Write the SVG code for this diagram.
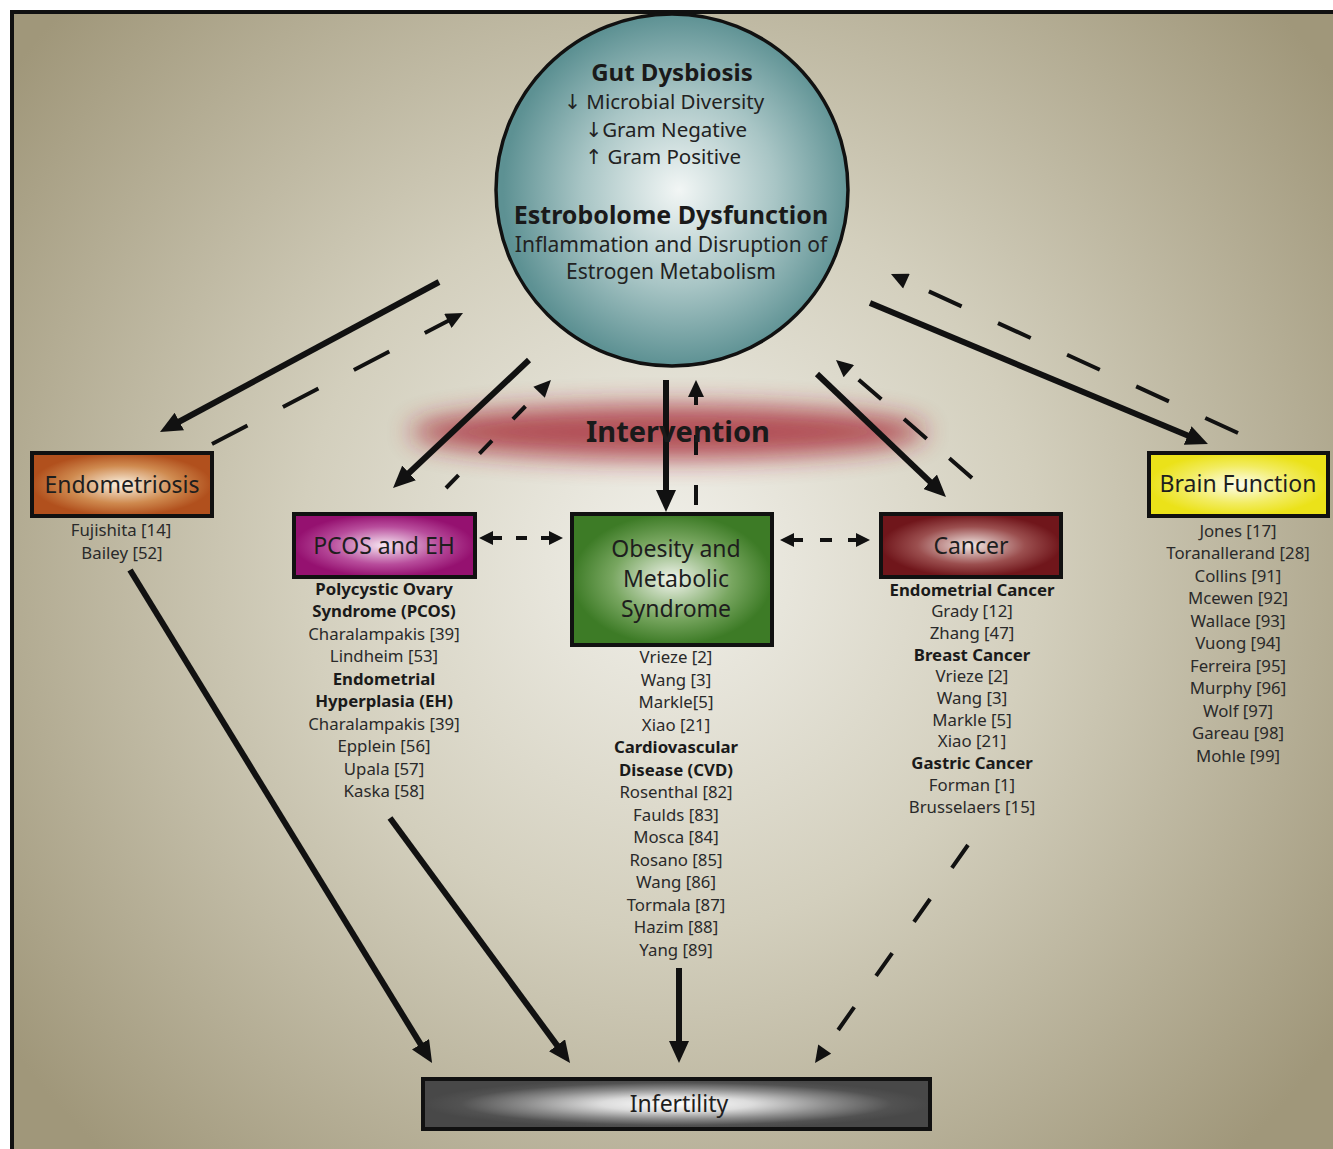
<svg xmlns="http://www.w3.org/2000/svg" width="1333" height="1149" viewBox="0 0 1333 1149">
<defs>
<radialGradient id="bg" gradientUnits="userSpaceOnUse" cx="670" cy="560" r="820">
<stop offset="0" stop-color="#f1f0ea"/><stop offset="0.45" stop-color="#d3cfbd"/><stop offset="1" stop-color="#a0977a"/>
</radialGradient>
<radialGradient id="gCircle" cx="0.52" cy="0.5" r="0.5">
<stop offset="0" stop-color="#f2f6f5"/><stop offset="0.55" stop-color="#a8c5c5"/><stop offset="1" stop-color="#5d9193"/>
</radialGradient>
<radialGradient id="gEndo" cx="0.5" cy="0.5" r="0.5"><stop offset="0" stop-color="#fbf3e4"/><stop offset="0.6" stop-color="#cf8a4f"/><stop offset="1" stop-color="#b1501d"/></radialGradient>
<radialGradient id="gPcos" cx="0.5" cy="0.5" r="0.5"><stop offset="0" stop-color="#f6e6f2"/><stop offset="0.6" stop-color="#b84d9c"/><stop offset="1" stop-color="#951170"/></radialGradient>
<radialGradient id="gObes" cx="0.5" cy="0.5" r="0.5"><stop offset="0" stop-color="#f2f5ee"/><stop offset="0.6" stop-color="#78a660"/><stop offset="1" stop-color="#3d7b26"/></radialGradient>
<radialGradient id="gCanc" cx="0.5" cy="0.5" r="0.5"><stop offset="0" stop-color="#f2e8e4"/><stop offset="0.6" stop-color="#9b4f4f"/><stop offset="1" stop-color="#70161b"/></radialGradient>
<radialGradient id="gBrain" cx="0.5" cy="0.5" r="0.5"><stop offset="0" stop-color="#fdfdf0"/><stop offset="0.6" stop-color="#f2ec60"/><stop offset="1" stop-color="#ebe219"/></radialGradient>
<radialGradient id="gInf" cx="0.5" cy="0.5" r="0.5"><stop offset="0" stop-color="#ffffff"/><stop offset="0.3" stop-color="#dcdcdc"/><stop offset="0.6" stop-color="#8c8c8c"/><stop offset="0.85" stop-color="#525252"/><stop offset="1" stop-color="#484848"/></radialGradient>
<filter id="blur" x="-30%" y="-100%" width="160%" height="300%"><feGaussianBlur stdDeviation="13"/></filter>
<marker id="hs" markerUnits="userSpaceOnUse" viewBox="-2 -10 22 20" refX="0" refY="0" markerWidth="22" markerHeight="20" orient="auto"><path d="M-2,-10 L20,0 L-2,10 z" fill="#111"/></marker>
<marker id="hd" markerUnits="userSpaceOnUse" viewBox="-2 -8 18 16" refX="0" refY="0" markerWidth="18" markerHeight="16" orient="auto"><path d="M-1,-8 L16,0 L-1,8 z" fill="#111"/></marker>
<marker id="hd2" markerUnits="userSpaceOnUse" viewBox="-2 -7 16 14" refX="0" refY="0" markerWidth="16" markerHeight="14" orient="auto-start-reverse"><path d="M-1,-7 L13,0 L-1,7 z" fill="#111"/></marker>
</defs>
<style>
text{font-family:"Noto Sans","Open Sans","DejaVu Sans",sans-serif;fill:#222;text-anchor:middle}
.ref{font-size:16.8px;fill:#2a2a2a}
.b{font-weight:bold;fill:#1a1a1a}
.lbl{font-size:23px;fill:#1e1e1e}
.box{stroke:#111;stroke-width:4}
.s{stroke:#111;stroke-width:6;fill:none;marker-end:url(#hs)}
.d{stroke:#111;stroke-width:4;fill:none;stroke-dasharray:40 40;marker-end:url(#hd)}
.dd{stroke:#111;stroke-width:4;fill:none;marker-end:url(#hd2);marker-start:url(#hd2)}
</style>
<rect x="0" y="0" width="1333" height="1149" fill="#ffffff"/>
<rect x="12" y="12" width="1340" height="1150" fill="url(#bg)" stroke="#111" stroke-width="4"/>

<g id="intervention">
<ellipse cx="668" cy="432" rx="258" ry="27" fill="#a11f2a" opacity="0.75" filter="url(#blur)"/>
</g>

<g id="gut-dysbiosis">
<circle cx="672" cy="190" r="176" fill="url(#gCircle)" stroke="#111" stroke-width="3.5"/>
<text x="672" y="81" class="b" font-size="24">Gut Dysbiosis</text>
<text x="664" y="109" font-size="20.5">↓ Microbial Diversity</text>
<text x="666" y="137" font-size="20.5">↓Gram Negative</text>
<text x="663" y="164" font-size="20.5">↑ Gram Positive</text>
<text x="671" y="224" class="b" font-size="25">Estrobolome Dysfunction</text>
<text x="671" y="252" font-size="21">Inflammation and Disruption of</text>
<text x="671" y="279" font-size="21">Estrogen Metabolism</text>
</g>

<g id="connectors">
<path class="s" d="M439,282 L177.6,422.5"/>
<path class="d" d="M212,444 L448.8,320.4"/>
<path class="s" d="M529,360 L407.6,474.3"/>
<path class="d" d="M446,488 L539.8,391.5" style="stroke-dasharray:18 30"/>
<path class="s" d="M666,380 L666,492"/>
<path class="d" d="M696,505 L696,396" style="stroke-dasharray:20 30"/>
<path class="s" d="M817,374 L931.5,483.2"/>
<path class="d" d="M972,478 L848.1,370.5" style="stroke-dasharray:30 30"/>
<path class="s" d="M870,303 L1189.5,436.3"/>
<path class="d" d="M1238,433 L905.5,280.7" style="stroke-dasharray:36 40"/>
<path class="dd" d="M492,538 L550,538" style="stroke-dasharray:10 14 11 14 9"/>
<path class="dd" d="M793,540 L857,540" style="stroke-dasharray:10 17 12 16 9"/>
<path class="s" d="M130,570 L421.6,1045.9"/>
<path class="s" d="M390,818 L558.2,1046.9"/>
<path class="s" d="M679,968 L679,1043"/>
<path class="d" d="M968,845 L824.2,1049.9" style="stroke-dasharray:28 38"/>
</g>

<g id="intervention-label">
<text x="678" y="442" class="b" font-size="29">Intervention</text>
</g>

<g id="endometriosis">
<rect class="box" x="32" y="453" width="180" height="63" fill="url(#gEndo)"/>
<text x="122" y="493" class="lbl">Endometriosis</text>
<text x="121" y="536" class="ref">Fujishita [14]</text>
<text x="122" y="559" class="ref">Bailey [52]</text>
</g>

<g id="pcos-eh">
<rect class="box" x="294" y="514" width="181" height="63" fill="url(#gPcos)"/>
<text x="384" y="554" class="lbl">PCOS and EH</text>
<text x="384" y="595" class="ref b">Polycystic Ovary</text>
<text x="384" y="617" class="ref b">Syndrome (PCOS)</text>
<text x="384" y="640" class="ref">Charalampakis [39]</text>
<text x="384" y="662" class="ref">Lindheim [53]</text>
<text x="384" y="685" class="ref b">Endometrial</text>
<text x="384" y="707" class="ref b">Hyperplasia (EH)</text>
<text x="384" y="730" class="ref">Charalampakis [39]</text>
<text x="384" y="752" class="ref">Epplein [56]</text>
<text x="384" y="775" class="ref">Upala [57]</text>
<text x="384" y="797" class="ref">Kaska [58]</text>
</g>

<g id="obesity">
<rect class="box" x="572" y="514" width="200" height="131" fill="url(#gObes)"/>
<text x="676" y="557" class="lbl" font-size="24">Obesity and</text>
<text x="676" y="587" class="lbl" font-size="24">Metabolic</text>
<text x="676" y="617" class="lbl" font-size="24">Syndrome</text>
<text x="676" y="663" class="ref">Vrieze [2]</text>
<text x="676" y="686" class="ref">Wang [3]</text>
<text x="676" y="708" class="ref">Markle[5]</text>
<text x="676" y="731" class="ref">Xiao [21]</text>
<text x="676" y="753" class="ref b">Cardiovascular</text>
<text x="676" y="776" class="ref b">Disease (CVD)</text>
<text x="676" y="798" class="ref">Rosenthal [82]</text>
<text x="676" y="821" class="ref">Faulds [83]</text>
<text x="676" y="843" class="ref">Mosca [84]</text>
<text x="676" y="866" class="ref">Rosano [85]</text>
<text x="676" y="888" class="ref">Wang [86]</text>
<text x="676" y="911" class="ref">Tormala [87]</text>
<text x="676" y="933" class="ref">Hazim [88]</text>
<text x="676" y="956" class="ref">Yang [89]</text>
</g>

<g id="cancer">
<rect class="box" x="881" y="514" width="180" height="63" fill="url(#gCanc)"/>
<text x="971" y="554" class="lbl">Cancer</text>
<text x="972" y="596" class="ref b">Endometrial Cancer</text>
<text x="972" y="617" class="ref">Grady [12]</text>
<text x="972" y="639" class="ref">Zhang [47]</text>
<text x="972" y="661" class="ref b">Breast Cancer</text>
<text x="972" y="682" class="ref">Vrieze [2]</text>
<text x="972" y="704" class="ref">Wang [3]</text>
<text x="972" y="726" class="ref">Markle [5]</text>
<text x="972" y="747" class="ref">Xiao [21]</text>
<text x="972" y="769" class="ref b">Gastric Cancer</text>
<text x="972" y="791" class="ref">Forman [1]</text>
<text x="972" y="813" class="ref">Brusselaers [15]</text>
</g>

<g id="brain-function">
<rect class="box" x="1149" y="453" width="179" height="63" fill="url(#gBrain)"/>
<text x="1238" y="492" class="lbl">Brain Function</text>
<text x="1238" y="537" class="ref">Jones [17]</text>
<text x="1238" y="559" class="ref">Toranallerand [28]</text>
<text x="1238" y="582" class="ref">Collins [91]</text>
<text x="1238" y="604" class="ref">Mcewen [92]</text>
<text x="1238" y="627" class="ref">Wallace [93]</text>
<text x="1238" y="649" class="ref">Vuong [94]</text>
<text x="1238" y="672" class="ref">Ferreira [95]</text>
<text x="1238" y="694" class="ref">Murphy [96]</text>
<text x="1238" y="717" class="ref">Wolf [97]</text>
<text x="1238" y="739" class="ref">Gareau [98]</text>
<text x="1238" y="762" class="ref">Mohle [99]</text>
</g>

<g id="infertility">
<rect class="box" x="423" y="1079" width="507" height="50" fill="url(#gInf)"/>
<text x="679" y="1112" class="lbl" font-size="24">Infertility</text>
</g>
</svg>
